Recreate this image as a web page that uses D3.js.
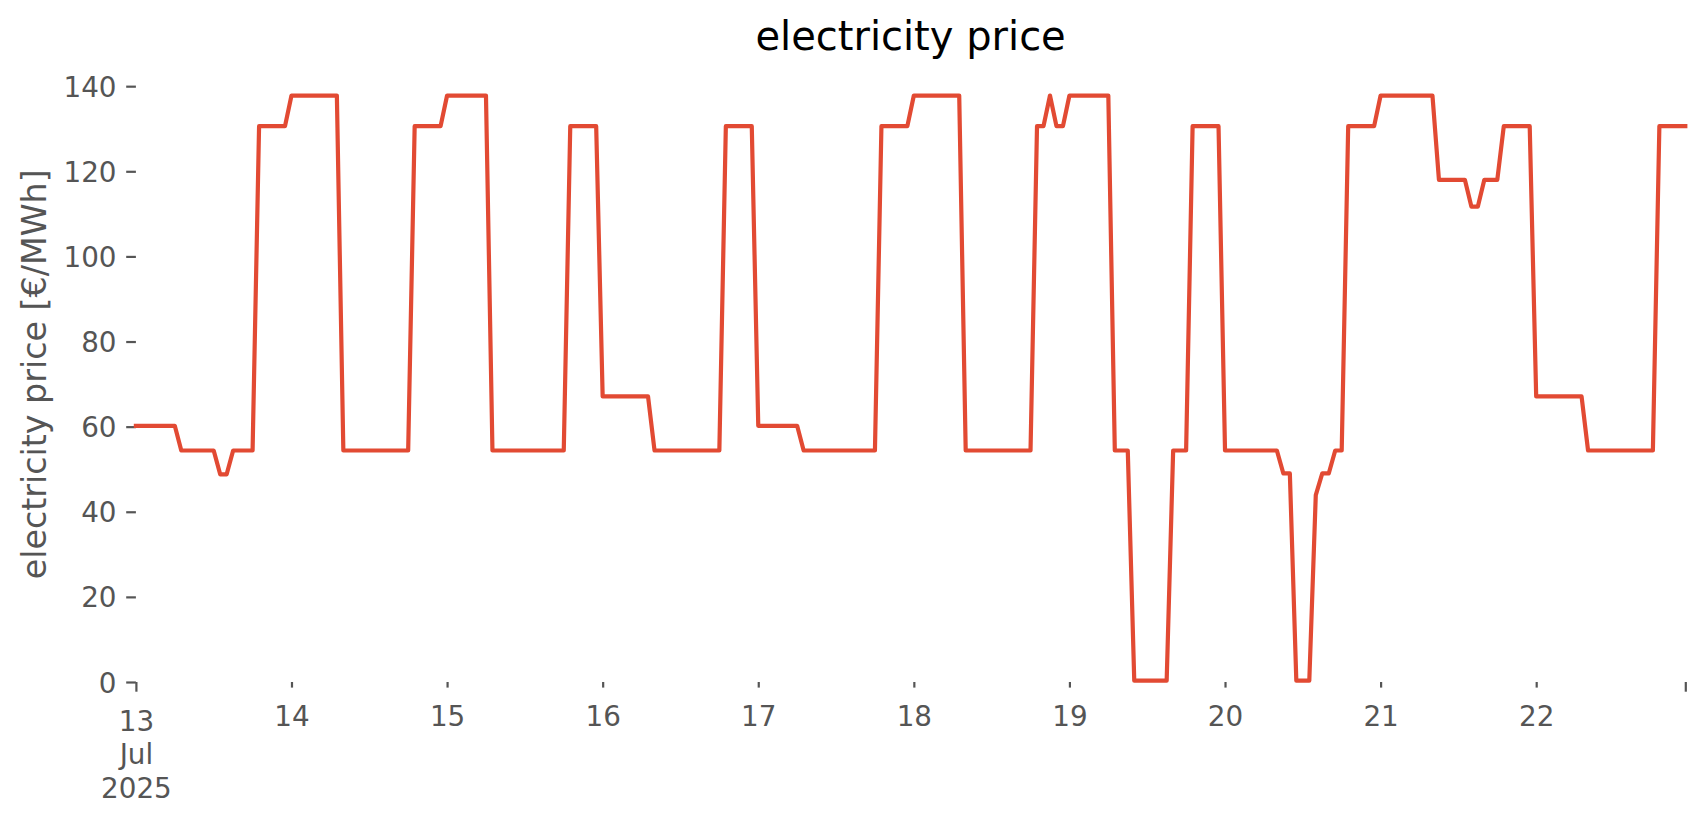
<!DOCTYPE html>
<html><head><meta charset="utf-8">
<script src="https://cdn.jsdelivr.net/npm/d3@7"></script>
<style>body{margin:0;background:#fff} text{font-family:"DejaVu Sans",sans-serif}</style>
</head><body><svg id="c" width="1706" height="815"></svg>
<script>
// hourly day-ahead prices, 13 Jul 2025 00:00 .. 22 Jul 2025 23:00
const startYear = 2025, startMonth = 6, startDay = 13;
const day13 = [60.2,60.2,60.2,60.2,60.2,60.2,60.2,54.4,54.4,54.4,54.4,54.4,54.4,48.8,48.8,54.4,54.4,54.4,54.4,130.6,130.6,130.6,130.6,130.6];
const day14 = [137.8,137.8,137.8,137.8,137.8,137.8,137.8,137.8,54.4,54.4,54.4,54.4,54.4,54.4,54.4,54.4,54.4,54.4,54.4,130.6,130.6,130.6,130.6,130.6];
const day15 = [137.8,137.8,137.8,137.8,137.8,137.8,137.8,54.4,54.4,54.4,54.4,54.4,54.4,54.4,54.4,54.4,54.4,54.4,54.4,130.6,130.6,130.6,130.6,130.6];
const day16 = [67.1,67.1,67.1,67.1,67.1,67.1,67.1,67.1,54.4,54.4,54.4,54.4,54.4,54.4,54.4,54.4,54.4,54.4,54.4,130.6,130.6,130.6,130.6,130.6];
const day17 = [60.2,60.2,60.2,60.2,60.2,60.2,60.2,54.4,54.4,54.4,54.4,54.4,54.4,54.4,54.4,54.4,54.4,54.4,54.4,130.6,130.6,130.6,130.6,130.6];
const day18 = [137.8,137.8,137.8,137.8,137.8,137.8,137.8,137.8,54.4,54.4,54.4,54.4,54.4,54.4,54.4,54.4,54.4,54.4,54.4,130.6,130.6,137.8,130.6,130.6];
const day19 = [137.8,137.8,137.8,137.8,137.8,137.8,137.8,54.4,54.4,54.4,0.3,0.3,0.3,0.3,0.3,0.3,54.4,54.4,54.4,130.6,130.6,130.6,130.6,130.6];
const day20 = [54.4,54.4,54.4,54.4,54.4,54.4,54.4,54.4,54.4,49.0,49.0,0.3,0.3,0.3,43.9,49.0,49.0,54.4,54.4,130.6,130.6,130.6,130.6,130.6];
const day21 = [137.8,137.8,137.8,137.8,137.8,137.8,137.8,137.8,137.8,118.0,118.0,118.0,118.0,118.0,111.7,111.7,118.0,118.0,118.0,130.6,130.6,130.6,130.6,130.6];
const day22 = [67.1,67.1,67.1,67.1,67.1,67.1,67.1,67.1,54.4,54.4,54.4,54.4,54.4,54.4,54.4,54.4,54.4,54.4,54.4,130.6,130.6,130.6,130.6,130.6];
const prices = [].concat(day13, day14, day15, day16, day17, day18, day19, day20, day21, day22);
const yTicks = [0, 20, 40, 60, 80, 100, 120, 140];
const dayTickLabels = ["14","15","16","17","18","19","20","21","22"];
const firstTickLabel = ["13", "Jul", "2025"];
const titleText = "electricity price";
const yLabelText = "electricity price [€/MWh]";
const lineColor = "#E24A33";

const start = new Date(startYear, startMonth, startDay, 0, 0, 0);
const data = prices.map((v, i) => ({t: d3.timeHour.offset(start, i), v}));
const end = data[data.length - 1].t;

const L = 135.9, R = 1685.3, T = 66.6, B = 682;
const x = d3.scaleTime().domain([start, end]).range([L, R]);
const y = d3.scaleLinear().domain([0, 144.6]).range([B, T]);

const svg = d3.select("#c");
svg.append("rect").attr("width", 1706).attr("height", 815).attr("fill", "#fff");

const tickColor = "#555555";
const fs = 27.8;

// y axis
const gy = svg.append("g").attr("transform", `translate(${L},0)`)
  .call(d3.axisLeft(y).tickValues(yTicks).tickSize(9.7).tickPadding(9.7));
gy.select(".domain").remove();
gy.selectAll(".tick line").attr("stroke", tickColor).attr("stroke-width", 2.2);
gy.selectAll(".tick text").attr("fill", tickColor).style("font-size", fs + "px")
  .style("font-family", '"DejaVu Sans"').attr("dy", "0.36em");

// x axis: day ticks (minor)
const dayDates = dayTickLabels.map(d => new Date(startYear, startMonth, +d));
const gx = svg.append("g").attr("transform", `translate(0,${B})`)
  .call(d3.axisBottom(x).tickValues(dayDates).tickSize(5.6).tickPadding(18.5)
    .tickFormat((d, i) => dayTickLabels[i]));
gx.select(".domain").remove();
gx.selectAll(".tick line").attr("stroke", tickColor).attr("stroke-width", 2.2);
gx.selectAll(".tick text").attr("fill", tickColor).style("font-size", fs + "px")
  .style("font-family", '"DejaVu Sans"');

// x axis: major ticks at start and end
const gx2 = svg.append("g").attr("transform", `translate(0,${B})`)
  .call(d3.axisBottom(x).tickValues([start, end]).tickSize(9.7).tickPadding(19.5)
    .tickFormat(() => ""));
gx2.select(".domain").remove();
gx2.selectAll(".tick line").attr("stroke", tickColor).attr("stroke-width", 2.2);
const firstText = gx2.select(".tick text").attr("fill", tickColor).style("font-size", fs + "px")
  .style("font-family", '"DejaVu Sans"').attr("dy", null);
firstTickLabel.forEach((s, i) => {
  firstText.append("tspan").attr("x", 0).attr("dy", i === 0 ? "0.71em" : "1.2em").text(s);
});

// line
const line = d3.line().x(d => x(d.t)).y(d => y(d.v));
svg.append("path").datum(data).attr("d", line)
  .attr("fill", "none").attr("stroke", lineColor).attr("stroke-width", 4.2)
  .attr("stroke-linejoin", "round").attr("stroke-linecap", "square");

// title
svg.append("text").attr("x", (L + R) / 2).attr("y", 50).attr("text-anchor", "middle")
  .style("font-size", "40px").attr("fill", "#000").text(titleText);

// y label
svg.append("text").attr("transform", `translate(46,${(T + B) / 2}) rotate(-90)`)
  .attr("text-anchor", "middle").style("font-size", "33.3px").attr("fill", tickColor)
  .text(yLabelText);
</script></body></html>
